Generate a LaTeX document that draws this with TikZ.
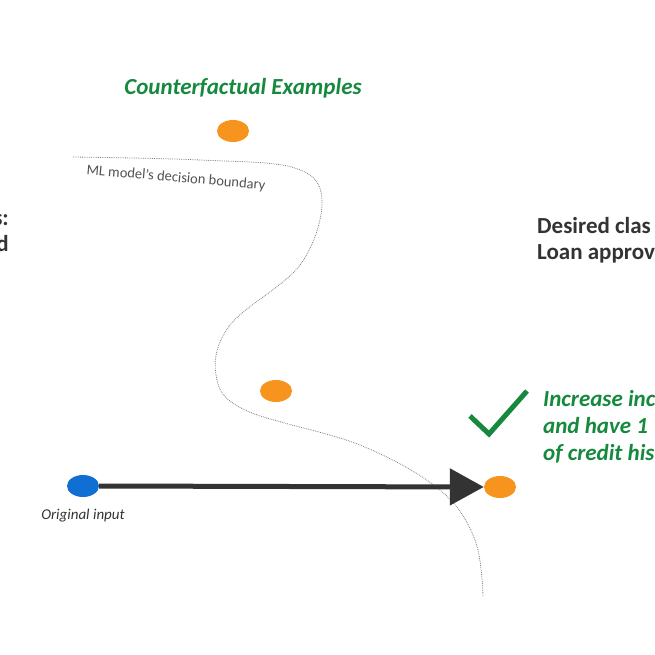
\documentclass[tikz,border=0pt]{standalone}
\usepackage{fontspec}
\setmainfont{Carlito}
\usetikzlibrary{arrows.meta,shapes.geometric}
\definecolor{gr}{HTML}{16893F}
\definecolor{org}{HTML}{F7941D}
\definecolor{blu}{HTML}{0F6FD2}
\definecolor{dk}{HTML}{333333}
\begin{document}
\begin{tikzpicture}[x=1pt,y=-1pt,
  dot/.style={ellipse,minimum width=32pt,minimum height=22pt,inner sep=0pt},
  big/.style={font=\fontsize{23}{26}\selectfont\bfseries,text=dk},
  grt/.style={font=\fontsize{23}{27}\selectfont\bfseries\itshape,text=gr}]
\path[use as bounding box] (0,0) rectangle (655,655);
\clip (0,0) rectangle (655,655);
\node[grt] (title) at (243,88) {Counterfactual Examples};
\draw[gray,densely dotted,line width=0.8pt] plot[smooth,tension=0.6] coordinates {(73,157) (200,160) (295,168) (322,200) (300,265) (230,325) (216,375) (245,410) (360,445) (440,490) (475,540) (483,597)};
\node[font=\fontsize{14.5}{16}\selectfont,text=dk!85,rotate=-5] (ml) at (176,178) {ML model’s decision boundary};
\node[dot,fill=org] (c1) at (233,131) {};
\node[dot,fill=org] (c2) at (276,391) {};
\node[dot,fill=org] (c3) at (500,487) {};
\node[dot,fill=blu] (o) at (83,486) {};
\draw[dk,line width=5pt,-{Triangle[length=34pt,width=36pt]}] (o.east) -- (c3.west);
\node[font=\fontsize{15}{17}\selectfont\itshape,text=dk] (oi) at (83,516) {Original input};
\node[big,align=right,anchor=north east,inner sep=0pt] (left) at (9,214) {s:\\d};
\node[big,align=left,anchor=north west,inner sep=0pt] (des) at (537,217) {Desired clas\\Loan approv};
\draw[gr,line width=5pt] (470,416) -- (489,434) -- (527,391);
\node[grt,align=left,anchor=north west,inner sep=0pt] (inc) at (543,390) {Increase inc\\and have 1\\of credit his};
\end{tikzpicture}
\end{document}
